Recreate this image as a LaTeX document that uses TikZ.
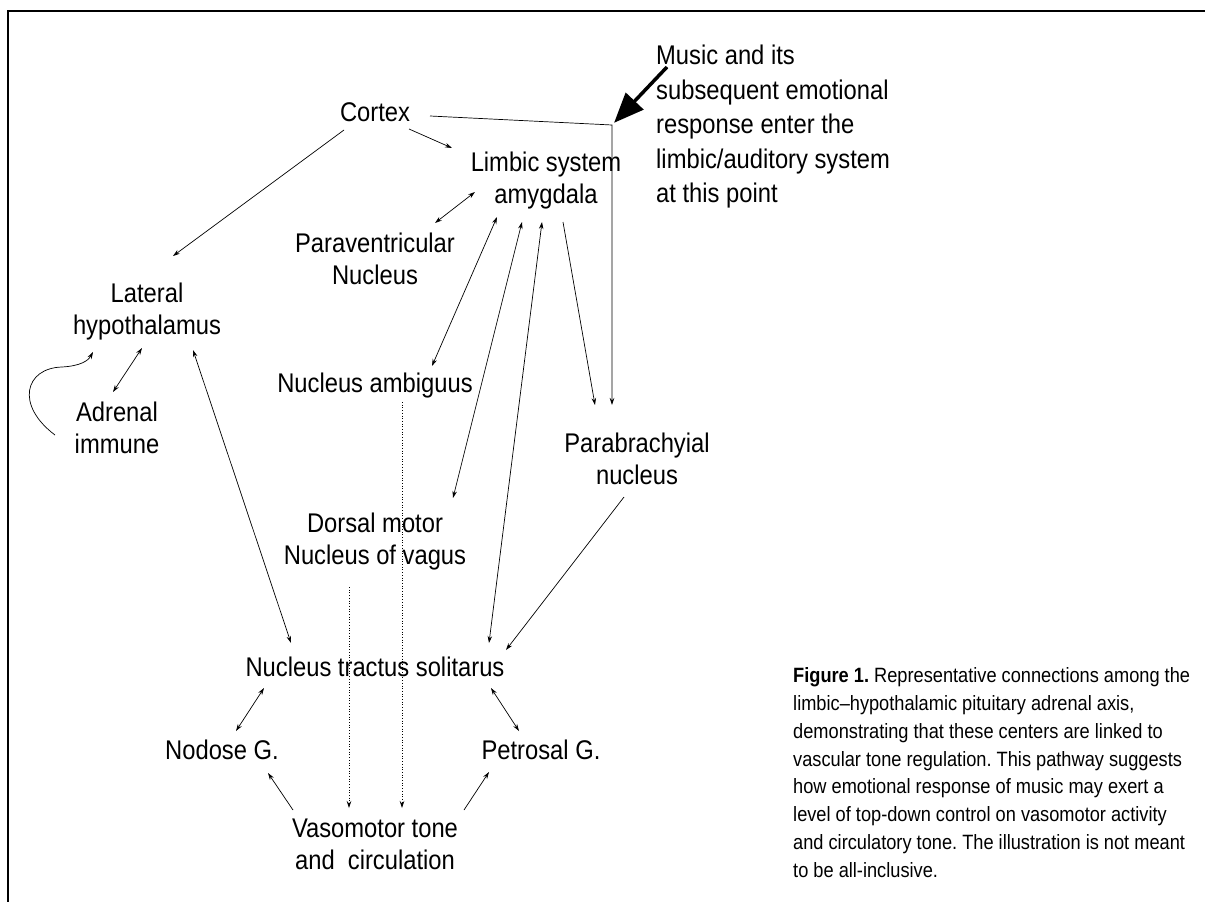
\documentclass[tikz,border=0pt]{standalone}
\usepackage{fontspec}
\setmainfont{Liberation Sans}[FakeStretch=0.88]
\usetikzlibrary{arrows.meta}
\frenchspacing

\begin{document}
\begin{tikzpicture}[x=1pt,y=-1pt,
    area/.style={align=center,inner sep=0pt,font=\fontsize{27}{32}\selectfont},
    link/.style={line width=0.7pt,-{Stealth[length=7pt,width=4.5pt]}},
    twoway/.style={line width=0.7pt,{Stealth[length=7pt,width=4.5pt]}-{Stealth[length=7pt,width=4.5pt]}},
    dotlink/.style={link,dotted}]
   \useasboundingbox (0,0) rectangle (1205,902);
   \draw[line width=2pt] (8,902) -- (8,11) -- (1205,11);

   \node[area] (cortex)   at (375,112) {Cortex};
   \node[area] (limbic)   at (546,181) {Limbic system\\amygdala};
   \node[area] (para)     at (375,259) {Paraventricular\\Nucleus};
   \node[area] (lat)      at (147,312) {Lateral\\hypothalamus};
   \node[area] (adrenal)  at (117,428) {Adrenal\\immune};
   \node[area] (ambig)    at (375,386) {Nucleus ambiguus};
   \node[area] (parab)    at (637,459) {Parabrachyial\\nucleus};
   \node[area] (dorsal)   at (375,542) {Dorsal motor\\Nucleus of vagus};
   \node[area] (nts)      at (375,667) {Nucleus tractus solitarus};
   \node[area] (nodose)   at (222,750) {Nodose G.};
   \node[area] (petrosal) at (541,750) {Petrosal G.};
   \node[area] (vaso)     at (375,844) {Vasomotor tone\\and\ \ circulation};
   \node[area,align=left,anchor=north west,font=\fontsize{27}{34.5}\selectfont] (music) at (656,45)
      {Music and its\\subsequent emotional\\response enter the\\limbic/auditory system\\at this point};
   \node[align=left,anchor=north west,inner sep=0pt,font=\fontsize{20.7}{27.8}\selectfont] (caption) at (793,667.5)
      {\textbf{Figure 1.} Representative connections among the\\
       limbic--hypothalamic pituitary adrenal axis,\\
       demonstrating that these centers are linked to\\
       vascular tone regulation. This pathway suggests\\
       how emotional response of music may exert a\\
       level of top-down control on vasomotor activity\\
       and circulatory tone. The illustration is not meant\\
       to be all-inclusive.};
   \coordinate (entry) at (612,125);

   % music enters here
   \draw[line width=3.5pt,-{Triangle[length=30pt,width=24pt]},shorten >=3pt]
      ([shift={(11,22)}]music.north west) -- (entry);
   \draw[link] ([shift={(55,4)}]cortex.center) -- (entry) -- ([shift={(-25,-54)}]parab.center);

    \path[link]
    ([shift={(-31,18)}]cortex.center) edge ([shift={(26,-56)}]lat.center)
    ([shift={(34,17)}]cortex.center) edge ([shift={(-94,-33)}]limbic.center)
    ([shift={(17,41)}]limbic.center) edge ([shift={(-42,-54)}]parab.center)
    ([shift={(-13,38)}]parab.center) edge ([shift={(131,-17)}]nts.center)
    ([shift={(-82,-34)}]vaso.center) edge ([shift={(46,23)}]nodose.center)
    ([shift={(89,-34)}]vaso.center) edge ([shift={(-52,22)}]petrosal.center);
    \path[twoway]
    ([shift={(60,-36)}]para.center) edge ([shift={(-71,11)}]limbic.center)
    ([shift={(-49,36)}]limbic.center) edge ([shift={(57,-20)}]ambig.center)
    ([shift={(-24,41)}]limbic.center) edge ([shift={(78,-44)}]dorsal.center)
    ([shift={(-4,41)}]limbic.center) edge ([shift={(114,-24)}]nts.center)
    ([shift={(46,38)}]lat.center) edge ([shift={(-84,-24)}]nts.center)
    ([shift={(-5,36)}]lat.center) edge ([shift={(-4,-36)}]adrenal.center)
    ([shift={(-111,21)}]nts.center) edge ([shift={(14,-19)}]nodose.center)
    ([shift={(116,21)}]nts.center) edge ([shift={(-22,-19)}]petrosal.center);
    \path[dotlink]
    ([shift={(27,16)}]ambig.center) edge ([shift={(27,-36)}]vaso.center)
    ([shift={(-26,45)}]dorsal.center) edge ([shift={(-26,-36)}]vaso.center);

   % loop back to the hypothalamus
   \draw[link] ([shift={(-62,7)}]adrenal.center)
      .. controls (15,405) and (25,368) .. (62,367)
      .. controls (80,366) and (88,361) .. ([shift={(-54,40)}]lat.center);
\end{tikzpicture}
\end{document}
